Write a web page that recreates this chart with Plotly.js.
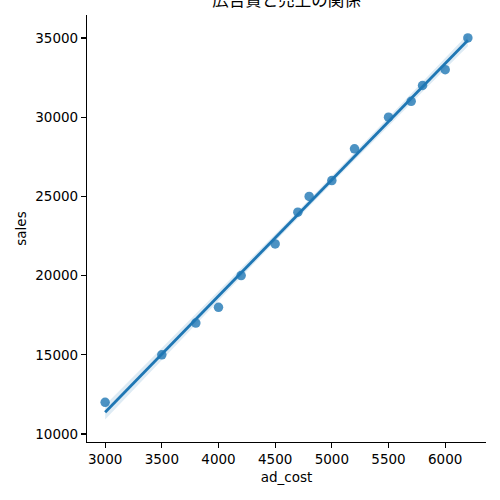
<!DOCTYPE html>
<html>
<head>
<meta charset="utf-8">
<script src="https://cdn.plot.ly/plotly-3.0.1.min.js"></script>
<style>html,body{margin:0;padding:0;background:#fff}#chart{width:500px;height:500px}</style>
</head>
<body>
<div id="chart"></div>
<script>
var adCost = [3000, 3500, 3800, 4000, 4200, 4500, 4700, 4800, 5000, 5200, 5500, 5700, 5800, 6000, 6200];
var sales  = [12000, 15000, 17000, 18000, 20000, 22000, 24000, 25000, 26000, 28000, 30000, 31000, 32000, 33000, 35000];
var titleText = "広告費と売上の関係";
var xLabel = "ad_cost";
var yLabel = "sales";
var xTicks = [3000, 3500, 4000, 4500, 5000, 5500, 6000];
var yTicks = [10000, 15000, 20000, 25000, 30000, 35000];

// ordinary least squares fit with 95% confidence band (as seaborn regplot)
var n = adCost.length;
var mx = adCost.reduce(function(a,b){return a+b;},0)/n;
var my = sales.reduce(function(a,b){return a+b;},0)/n;
var sxx = 0, sxy = 0;
for (var i=0;i<n;i++){ sxx += (adCost[i]-mx)*(adCost[i]-mx); sxy += (adCost[i]-mx)*(sales[i]-my); }
var slope = sxy/sxx, icpt = my - slope*mx;
var sse = 0;
for (var i=0;i<n;i++){ var r = sales[i]-(icpt+slope*adCost[i]); sse += r*r; }
var s = Math.sqrt(sse/(n-2));
var tcrit = 2.160;
var xmin = Math.min.apply(null, adCost), xmax = Math.max.apply(null, adCost);
var gx = [], gy = [], up = [], lo = [];
for (var k=0;k<=100;k++){
  var x = xmin + (xmax-xmin)*k/100;
  var y = icpt + slope*x;
  var se = s*Math.sqrt(1/n + (x-mx)*(x-mx)/sxx);
  gx.push(x); gy.push(y); up.push(y+tcrit*se); lo.push(y-tcrit*se);
}
var blue = "#1f77b4";
var traces = [
  {x: gx, y: lo, mode: "lines", line: {width: 0}, hoverinfo: "skip", showlegend: false},
  {x: gx, y: up, mode: "lines", line: {width: 0}, fill: "tonexty", fillcolor: "rgba(31,119,180,0.15)", hoverinfo: "skip", showlegend: false},
  {x: adCost, y: sales, mode: "markers", marker: {size: 9.5, color: "rgba(31,119,180,0.8)", line: {width: 0}}, showlegend: false},
  {x: gx, y: gy, mode: "lines", line: {color: blue, width: 2.8}, showlegend: false}
];
var tickFont = {family: "DejaVu Sans", size: 13.5, color: "#000"};
var layout = {
  width: 500, height: 500,
  margin: {l: 87, r: 14, t: 15, b: 58},
  paper_bgcolor: "#fff", plot_bgcolor: "#fff",
  title: {text: titleText, font: {family: "Noto Sans CJK JP", size: 16.5, color: "#000"}, x: 0.573, xanchor: "center", y: 1.0, yref: "container", yanchor: "middle", pad: {t: 0, b: 0}},
  xaxis: {
    range: [2840, 6360], tickvals: xTicks, ticktext: xTicks.map(String),
    showgrid: false, zeroline: false, showline: true, linecolor: "#000", linewidth: 1.1,
    ticks: "outside", ticklen: 5, tickwidth: 1.1, tickcolor: "#000", tickfont: tickFont,
    title: {text: xLabel, font: tickFont, standoff: 6}
  },
  yaxis: {
    range: [9495, 36450], tickvals: yTicks, ticktext: yTicks.map(String),
    showgrid: false, zeroline: false, showline: true, linecolor: "#000", linewidth: 1.1,
    ticks: "outside", ticklen: 5, tickwidth: 1.1, tickcolor: "#000", tickfont: tickFont,
    title: {text: yLabel, font: tickFont, standoff: 5}
  }
};
Plotly.newPlot("chart", traces, layout, {displayModeBar: false, staticPlot: true});
</script>
</body>
</html>
